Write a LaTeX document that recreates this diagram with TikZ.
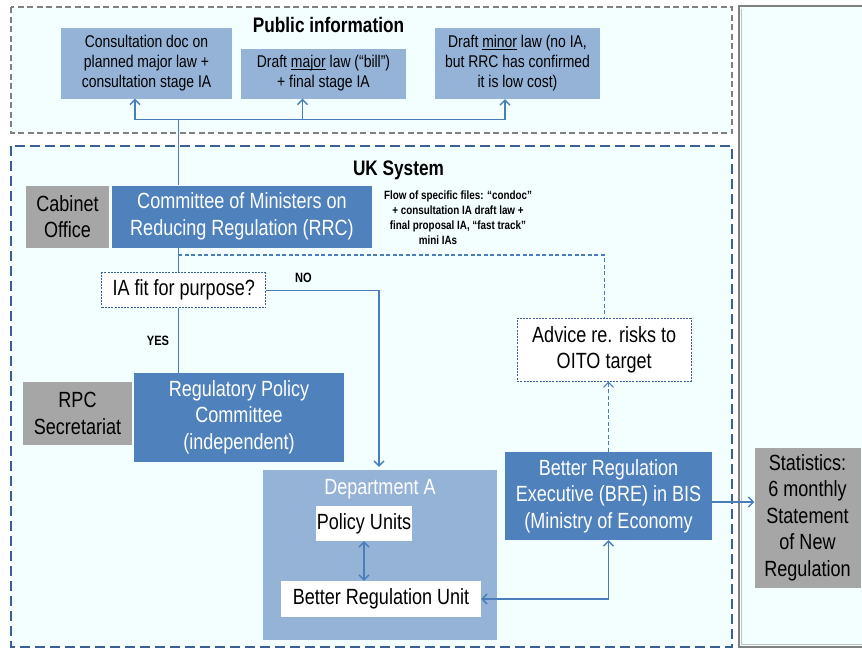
\documentclass[tikz,border=0pt]{standalone}
\usepackage{fontspec}
\setmainfont{Liberation Sans}[FakeStretch=0.82]
\usetikzlibrary{arrows.meta}
\definecolor{lb}{HTML}{95B3D7}
\definecolor{mb}{HTML}{4F81BD}
\definecolor{gb}{HTML}{A6A6A6}
\definecolor{bgc}{HTML}{F3FEFF}
\definecolor{cn}{HTML}{4A7EBB}
\definecolor{dk}{HTML}{3A5F94}
\definecolor{gl}{HTML}{808080}
\newcommand{\myfbig}{\fontsize{22}{26.5}\selectfont}
\newcommand{\myfmid}{\fontsize{17}{20}\selectfont}
\newcommand{\myfsmall}{\fontsize{12}{15}\selectfont\bfseries}
\newsavebox{\myulbox}
\newcommand{\myul}[1]{\sbox{\myulbox}{#1}\rlap{\rule[-2.2pt]{\wd\myulbox}{0.9pt}}#1}
\tikzset{
  sz/.style 2 args={minimum width=#1pt, minimum height=#2pt},
  pubbox/.style={fill=lb, inner sep=0, align=center, font=\myfmid},
  bluebox/.style={fill=mb, text=white, font=\myfbig, align=center, inner sep=0},
  graybox/.style={fill=gb, font=\myfbig, align=center, inner sep=0},
  whitebox/.style={fill=white, font=\myfbig, align=center, inner sep=0},
  dashbox/.style={draw=dk, dash pattern=on 2pt off 1.2pt, line width=0.8pt, fill=white, font=\myfbig, align=center, inner sep=0},
  conn/.style={draw=cn, line width=1.3pt},
  dconn/.style={draw=cn, line width=1.1pt, dash pattern=on 4pt off 2.5pt},
  tip/.style={-{Straight Barb[length=5pt,width=10pt]}},
  tips/.style={{Straight Barb[length=5pt,width=10pt]}-{Straight Barb[length=5pt,width=10pt]}},
  lbl/.style={font=\bfseries\fontsize{13.5}{16}\selectfont, inner sep=0},
  ttl/.style={font=\bfseries\fontsize{21}{24}\selectfont, inner sep=0}
}
\begin{document}
\begin{tikzpicture}[x=1pt,y=-1pt]
\useasboundingbox (0,0) rectangle (862,649);
% frames
\draw[gl, fill=bgc, line width=2.5pt, dash pattern=on 6pt off 3.5pt] (11,7) rectangle (732,133);
\draw[dk, fill=bgc, line width=2.5pt, dash pattern=on 10pt off 5pt] (11,146) rectangle (732,647);
\draw[gl, fill=bgc, line width=2.2pt] (739,6) rectangle (880,647);
\draw[gl!50, line width=0.6pt] (741.5,8.5) -- (741.5,644.5) -- (880,644.5);
% titles
\node[ttl] (pubt) at (328.5,25) {Public information};
\node[ttl] (ukt) at (398.5,170) {UK System};
% public boxes
\node[pubbox, sz={171}{71}] (box1) at (146.5,63) {Consultation doc on\\planned major law +\\consultation stage IA};
\node[pubbox, sz={165}{50}] (box2) at (323.5,73.5) {Draft \myul{major} law (“bill”)\\+ final stage IA};
\node[pubbox, sz={165}{71}] (box3) at (517.5,63.5) {Draft \myul{minor} law (no IA,\\but RRC has confirmed\\it is low cost)};
% UK system
\node[graybox, sz={83}{62}] (cab) at (67.5,216.5) {Cabinet\\Office};
\node[bluebox, sz={260}{62}] (rrc) at (242,216.5) {Committee of Ministers on\\Reducing Regulation (RRC)};
\node[font=\myfsmall, align=center, inner sep=0] (flow) at (458,217.5) {Flow of specific files: “condoc”\\+ consultation IA draft law +\\final proposal IA, “fast track”\\mini IAs\hspace*{40pt}};
\node[dashbox, sz={164}{35}] (ia) at (183.7,290.2) {IA fit for purpose?};
\node[lbl] (no) at (303.5,278) {NO};
\node[lbl] (yes) at (158,341) {YES};
\node[graybox, sz={109}{63}] (rpcsec) at (77.5,413.5) {RPC\\Secretariat};
\node[bluebox, sz={210}{89}] (rpc) at (239,417.2) {Regulatory Policy\\Committee\\(independent)};
\node[dashbox, sz={174}{63}] (adv) at (604.2,349.7) {Advice re. risks to\\OITO target};
\node[bluebox, sz={207}{88}] (bre) at (608.5,496) {Better Regulation\\Executive (BRE) in BIS\\(Ministry of Economy};
\node[fill=lb, sz={234}{170}, inner sep=0] (depA) at (380,555) {};
\node[text=white, font=\myfbig, inner sep=0] (depAt) at (380,489) {Department A};
\node[whitebox, sz={96}{35}] (pol) at (364,523.5) {Policy Units};
\node[whitebox, sz={200}{36}] (bru) at (381,599) {Better Regulation Unit};
\node[graybox, sz={106}{140}] (stats) at (807.5,517.5) {Statistics:\\6 monthly\\Statement\\of New\\Regulation};
% connectors
\coordinate (a1) at (135,119.5);
\coordinate (hub) at (178.3,119.5);
\coordinate (a2) at (302.5,119.5);
\coordinate (a3) at (505,119.5);
\draw[conn] (a1) -- (a3);
\draw[conn] (rrc.north -| hub) -- (hub);
\draw[conn,tip] (a1) -- (a1 |- box1.south);
\draw[conn,tip] (a2) -- (a2 |- box2.south);
\draw[conn,tip] (a3) -- (a3 |- box3.south);
\draw[conn] (rrc.south -| hub) -- (ia.north -| hub);
\draw[conn] (ia.south -| hub) -- (rpc.north -| hub);
\coordinate (dstart) at (178.3,255);
\draw[dconn] (dstart) -| (adv.north);
\coordinate (nocorner) at (379,290.2);
\draw[conn,tip] (ia.east) -- (nocorner) -- ([yshift=3pt]nocorner |- depA.north);
\draw[dconn,tip] (bre.north) -- (adv.south -| bre.north);
\draw[conn,tips] (pol.south) -- (bru.north -| pol.south);
\draw[conn,tips] (bru.east) -| (bre.south);
\draw[conn,tip] ([yshift=-6pt]bre.east) -- ([yshift=-6pt]bre.east -| stats.west);
\end{tikzpicture}
\end{document}
